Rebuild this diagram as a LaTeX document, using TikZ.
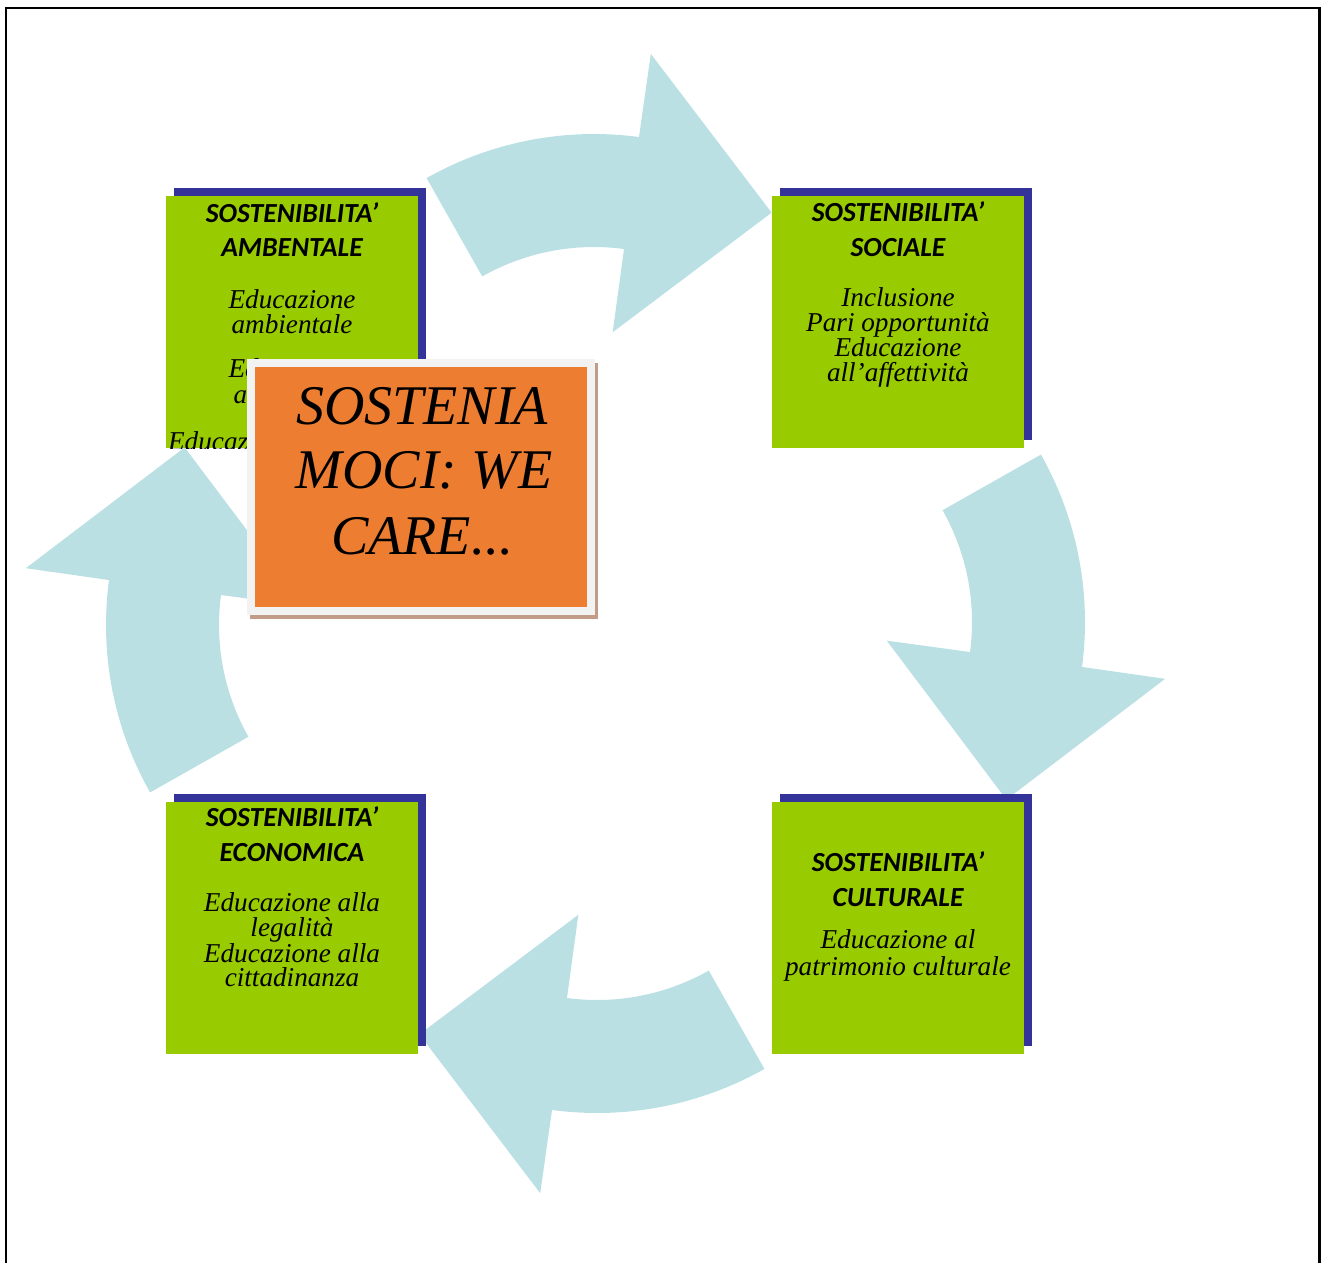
\documentclass[tikz,border=0pt]{standalone}
\usepackage{fontspec}
\setmainfont{Liberation Serif}
\newfontfamily\titlef{Carlito}
\newfontfamily\handf{Liberation Serif}
\usetikzlibrary{calc}
\definecolor{arrowblue}{RGB}{187,224,227}
\definecolor{shadowblue}{RGB}{51,51,153}
\definecolor{boxgreen}{RGB}{153,204,0}
\definecolor{coreorange}{RGB}{237,125,49}
\definecolor{coregray}{RGB}{242,242,242}
\definecolor{coreshadow}{RGB}{193,157,136}
\newcommand\cyclearrow{%
  \fill[arrowblue] (119.5:340) arc[start angle=119.5, end angle=82.4, radius=340]
    -- (82.3:424) -- (55.8:316) -- (82.5:143) -- (82.4:227)
    arc[start angle=82.4, end angle=119.5, radius=227] -- cycle;}
\begin{document}
\begin{tikzpicture}[x=0.5pt,y=-0.5pt,
  gbox/.style={fill=boxgreen, draw=none, inner sep=0pt, minimum width=126pt, minimum height=126pt},
  ttl/.style={font=\titlef\bfseries\itshape\fontsize{13.8}{15}\selectfont, anchor=base, inner sep=0pt},
  bdy/.style={font=\handf\itshape\fontsize{13.6}{15}\selectfont, anchor=base, inner sep=0pt},
  ctr/.style={font=\handf\itshape\fontsize{28}{32}\selectfont, anchor=base, inner sep=0pt},
  cbox/.style={fill=coreorange, draw=coregray, line width=4pt, inner sep=0pt, minimum width=170.15pt, minimum height=124pt}]
\useasboundingbox (0,0) rectangle (1321,1263);
% frame
\draw[line width=1.2pt] (6.2,1263) -- (6.2,8.2) -- (1319.5,8.2) -- (1319.5,1263);
% arrows
\begin{scope}[shift={(0,1263)}, yscale=-1]
  \begin{scope}[shift={(594,789)}] \cyclearrow \end{scope}
  \begin{scope}[shift={(745,641)}, rotate=90] \cyclearrow \end{scope}
  \begin{scope}[shift={(597,490)}, rotate=180] \cyclearrow \end{scope}
  \begin{scope}[shift={(446,638)}, rotate=-90] \cyclearrow \end{scope}
\end{scope}
% shadows of boxes
\fill[shadowblue] (174,188) rectangle (426,440);
\fill[shadowblue] (780,188) rectangle (1032,440);
\fill[shadowblue] (174,794) rectangle (426,1046);
\fill[shadowblue] (780,794) rectangle (1032,1046);
% green boxes
\node[gbox] (tl) at (292,322) {};
\node[gbox] (tr) at (898,322) {};
\node[gbox] (bl) at (292,928) {};
\node[gbox] (br) at (898,928) {};
% top-left texts
\begin{scope}
  \clip (166,196) rectangle (418,448);
  \node[ttl] (tl1) at (292,222.3) {SOSTENIBILITA’};
  \node[ttl] (tl2) at (292,256.7) {AMBENTALE};
  \node[bdy] (tl3) at (292,308.3) {Educazione};
  \node[bdy] (tl4) at (292,333.3) {ambientale};
  \node[bdy] (tl5) at (292,377.3) {Educazione};
  \node[bdy] (tl6) at (292,403.3) {alimentare};
  \node[bdy] (tl7) at (292,450) {Educazione alla salute};
\end{scope}
% top-right texts
\node[ttl] (tr1) at (898,221.7) {SOSTENIBILITA’};
\node[ttl] (tr2) at (898,256) {SOCIALE};
\node[bdy] (tr3) at (898,306) {Inclusione};
\node[bdy] (tr4) at (898,331.7) {Pari opportunità};
\node[bdy] (tr5) at (898,356.7) {Educazione};
\node[bdy] (tr6) at (898,381.7) {all’affettività};
% bottom-left texts
\node[ttl] (bl1) at (292,826.7) {SOSTENIBILITA’};
\node[ttl] (bl2) at (292,861.7) {ECONOMICA};
\node[bdy] (bl3) at (292,911.7) {Educazione alla};
\node[bdy] (bl4) at (292,936.7) {legalità};
\node[bdy] (bl5) at (292,962.7) {Educazione alla};
\node[bdy] (bl6) at (292,986.7) {cittadinanza};
% bottom-right texts
\node[ttl] (br1) at (898,871.7) {SOSTENIBILITA’};
\node[ttl] (br2) at (898,906) {CULTURALE};
\node[bdy] (br3) at (898,948.3) {Educazione al};
\node[bdy] (br4) at (898,975) {patrimonio culturale};
% central box
\fill[coreshadow] (249.7,363) rectangle (598.3,619.3);
\node[cbox] (core) at (421,487) {};
\node[ctr] (c1) at (422,424) {SOSTENIA};
\node[ctr] (c2) at (424,488.3) {MOCI: WE};
\node[ctr] (c3) at (422,554) {CARE...};
\end{tikzpicture}
\end{document}
